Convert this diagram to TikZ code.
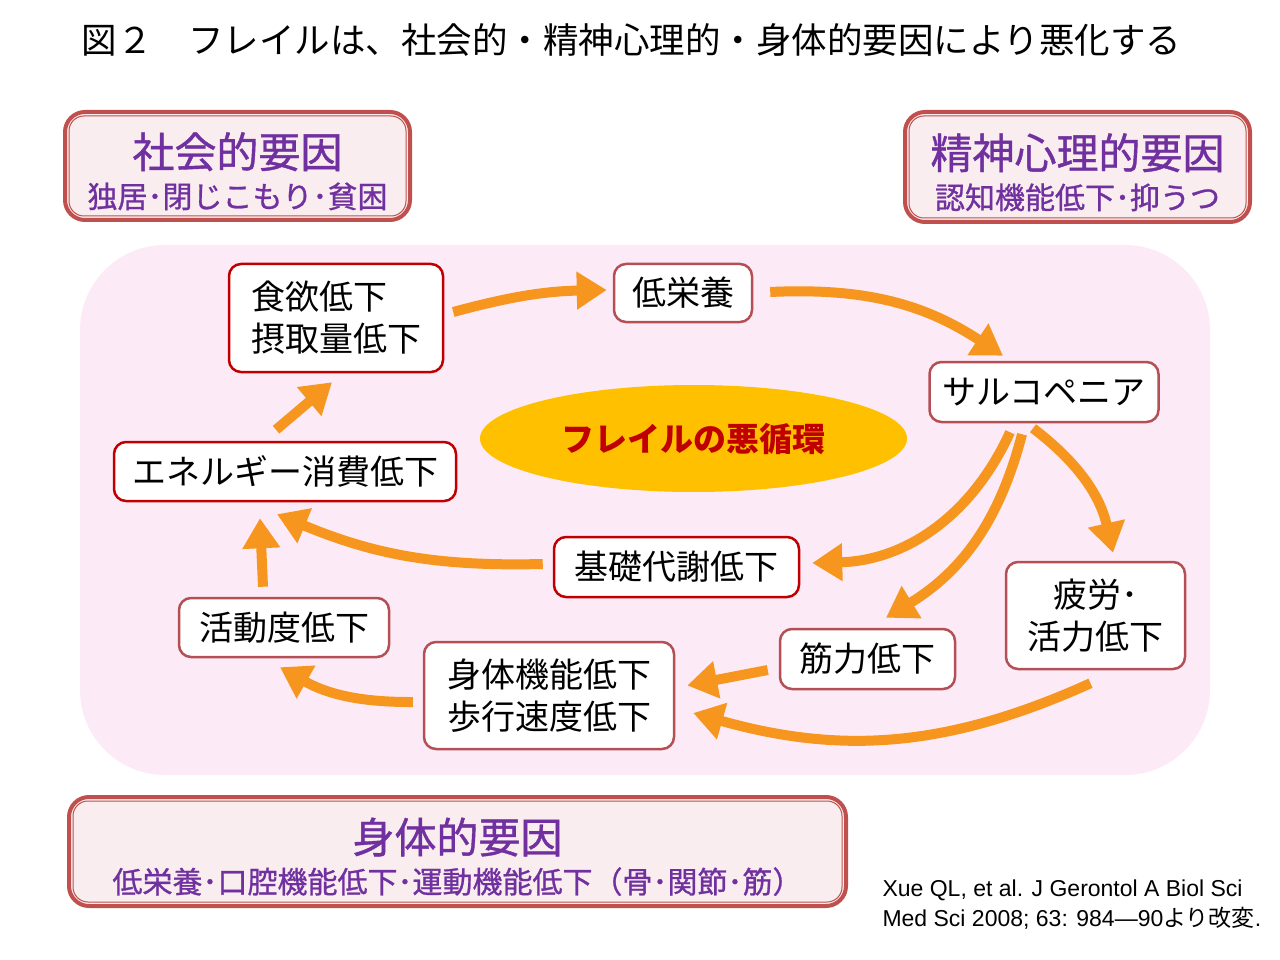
\documentclass[tikz,border=0pt]{standalone}
\usepackage{fontspec}
\setmainfont{Noto Sans CJK JP}
\newfontfamily\citefont{Liberation Sans}
\newfontfamily\factorfont{Noto Sans CJK JP}[FakeBold=0.9]
\usepackage{tikz}
\usetikzlibrary{calc}
\usetikzlibrary{arrows.meta}
\usetikzlibrary{shapes.geometric}
\definecolor{FrailPink}{RGB}{252,234,246}
\definecolor{FactorPink}{RGB}{249,237,239}
\definecolor{FactorRed}{RGB}{192,80,77}
\definecolor{StageDark}{RGB}{192,0,0}
\definecolor{StageSoft}{RGB}{180,80,85}
\definecolor{FlowOrange}{RGB}{247,150,30}
\definecolor{CycleGold}{RGB}{255,192,0}
\definecolor{FactorPurple}{RGB}{112,48,160}

\begin{document}
\begin{tikzpicture}[x=1pt, y=1pt,
  stage/.style = {draw=StageSoft, line width=2.5pt, fill=white, rounded corners=12pt,
    inner sep=0pt, align=center, font=\fontsize{34}{42}\selectfont},
  stagedark/.style = {stage, draw=StageDark},
  factor/.style = {draw=FactorRed, line width=4pt, fill=FactorPink, rounded corners=20pt,
    inner sep=0pt, align=center, text=FactorPurple, font=\factorfont\fontsize{30}{40}\selectfont},
  flow/.style = {draw=FlowOrange, line width=10pt, -{Triangle[length=30pt, width=36pt]}}]
  \useasboundingbox (0,0) rectangle (1280,-960);

  % title
  \node[anchor=west, font=\fontsize{35.5}{40}\selectfont] (title) at (78,-40)
    {図２　フレイルは、社会的・精神心理的・身体的要因により悪化する};

  % pink field behind the cycle
  \fill[FrailPink, rounded corners=85pt] (80,-245) rectangle (1210,-775);

  % factors
  \node[factor, minimum width=345pt, minimum height=108pt] (social) at (237.5,-166)
    {\rule{0pt}{46pt}{\fontsize{42}{40}\selectfont 社会的要因}\\独居･閉じこもり･貧困};
  \node[factor, minimum width=345pt, minimum height=110pt] (psycho) at (1077.5,-167)
    {\rule{0pt}{46pt}{\fontsize{42}{40}\selectfont 精神心理的要因}\\認知機能低下･抑うつ};
  \node[factor, minimum width=777pt, minimum height=109pt] (physical) at (457.5,-851.5)
    {\rule{0pt}{46pt}{\fontsize{42}{40}\selectfont 身体的要因}\\低栄養･口腔機能低下･運動機能低下（骨･関節･筋）};
  \foreach \f in {social, psycho, physical}
    \draw[FactorRed, line width=1pt, rounded corners=15pt]
      ($(\f.south west)+(6,6)$) rectangle ($(\f.north east)+(-6,-6)$);

  % stages of the cycle
  \node[stagedark, minimum width=214pt, minimum height=108pt, align=left] (appetite)
    at (336,-318) {食欲低下\\摂取量低下};
  \node[stage, minimum width=138pt, minimum height=58pt] (undernut) at (683,-293) {低栄養};
  \node[stage, minimum width=229pt, minimum height=60pt] (sarco) at (1044,-392) {サルコペニア};
  \node[stagedark, minimum width=342pt, minimum height=59pt] (energy) at (285,-471.5)
    {エネルギー消費低下};
  \node[stagedark, minimum width=245pt, minimum height=60pt] (basal) at (676.5,-567)
    {基礎代謝低下};
  \node[stage, minimum width=210pt, minimum height=59pt] (activity) at (284,-627.5)
    {活動度低下};
  \node[stage, minimum width=250pt, minimum height=107pt] (function) at (549,-695.5)
    {身体機能低下\\歩行速度低下};
  \node[stage, minimum width=175pt, minimum height=60pt] (strength) at (867.5,-659)
    {筋力低下};
  \node[stage, minimum width=179pt, minimum height=107pt] (fatigue) at (1095.5,-615.5)
    {疲労･\\活力低下};

  % centre
  \node[ellipse, fill=CycleGold, minimum width=427pt, minimum height=107pt, inner sep=0pt,
    text=StageDark, font=\bfseries\fontsize{33}{40}\selectfont] (cycle) at (693.5,-438.5)
    {フレイルの悪循環};

  % arrows
  \draw[flow] ($(appetite.east)+(9,6)$) to[bend left=7] ($(undernut.west)+(-6,3)$);
  \draw[flow] ($(undernut.east)+(17,1)$) to[bend left=18] ($(sarco.north)+(-41,5)$);
  \draw[flow] ($(sarco.south)+(-11,-5)$) to[bend left=20] ($(fatigue.north)+(17.5,8)$);
  \draw[flow] ($(sarco.south)+(-34,-9)$) to[bend left=32] ($(basal.east)+(12,4)$);
  \draw[flow] ($(sarco.south)+(-22,-11)$) to[bend left=22] ($(strength.north)+(18.5,10)$);
  \draw[flow] ($(fatigue.south)+(-5,-13)$) to[bend left=20] ($(function.east)+(18,-17.5)$);
  \draw[flow] ($(strength.west)+(-11,-11)$) -- ($(function.east)+(12,10)$);
  \draw[flow] ($(function.west)+(-10,-6.5)$) to[bend left=15] ($(activity.south)+(-4,-9)$);
  \draw[flow] ($(activity.north)+(-21,10)$) -- ($(energy.south)+(-25,-16)$);
  \draw[flow] ($(basal.west)+(-10,3)$) to[bend left=12] ($(energy.south)+(-8,-12)$);
  \draw[flow] ($(energy.north)+(-9,11)$) -- ($(appetite.south)+(-4,-9)$);

  % source
  \node[anchor=west, align=left, font=\fontsize{23}{30}\selectfont] (source) at (879,-905)
    {{\citefont Xue QL, et al. J Gerontol A Biol Sci}\\{\citefont Med Sci 2008; 63: 984—90}より改変{\citefont .}};
\end{tikzpicture}
\end{document}
